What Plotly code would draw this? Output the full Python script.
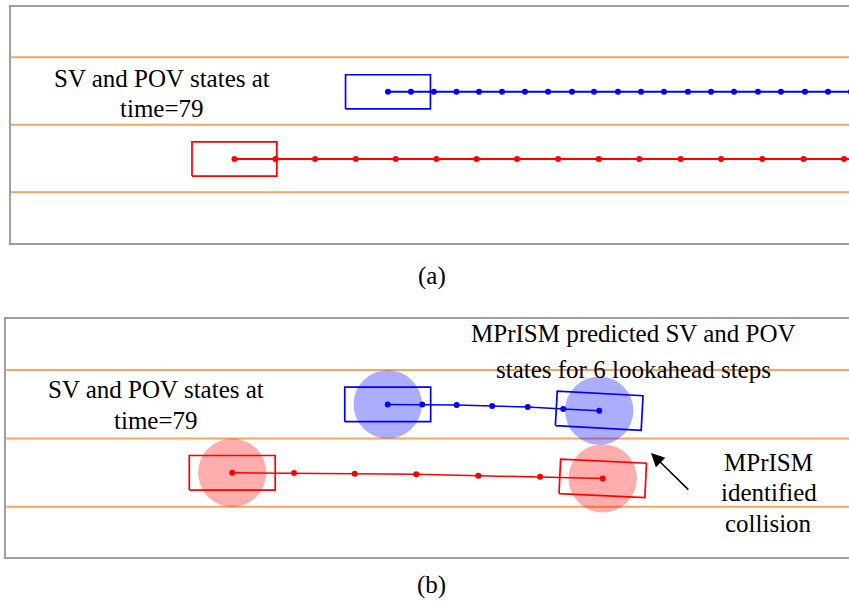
import plotly.graph_objects as go
import math

# ---------------- data (road coordinates, metres) ----------------
lane_boundaries = [0.0, 3.5, 7.0]

# Panel (a): trajectories at time = 79
blue_a_x = [19.57, 20.76, 21.95, 23.12, 24.29, 25.48, 26.67, 27.87, 29.11, 30.25,
            31.49, 32.69, 33.88, 35.12, 36.32, 37.51, 38.75, 39.94, 41.19, 42.38, 43.57]
blue_a_y = [5.21, 5.21, 5.21, 5.21, 5.21, 5.21, 5.21, 5.21, 5.21, 5.21,
            5.21, 5.21, 5.21, 5.21, 5.21, 5.21, 5.21, 5.21, 5.21, 5.21, 5.21]
red_a_x = [11.61, 13.74, 15.79, 17.90, 19.97, 22.08, 24.16, 26.26, 28.39, 30.50,
           32.60, 34.74, 36.84, 38.97, 41.11, 43.21, 45.33]
red_a_y = [1.73, 1.73, 1.73, 1.73, 1.73, 1.73, 1.73, 1.73, 1.73, 1.73,
           1.73, 1.73, 1.73, 1.73, 1.73, 1.73, 1.73]

# Panel (b): MPrISM predicted states, 6 lookahead steps
blue_b_x = [19.53, 21.30, 23.06, 24.88, 26.70, 28.52, 30.36]
blue_b_y = [5.24, 5.24, 5.21, 5.16, 5.11, 5.00, 4.92]
red_b_x = [11.57, 14.73, 17.84, 20.99, 24.17, 27.33, 30.54]
red_b_y = [1.74, 1.73, 1.69, 1.66, 1.59, 1.54, 1.45]
final_heading_deg = {"blue": -3.1, "red": -2.7}

VEH_L = 4.4
VEH_W = 1.77
UNC_R = 1.75

BLUE = "#0000FF"
RED = "#FF0000"
ORANGE = "#F6A560"
FRAME = "#A0A0A0"
FONT = "Liberation Serif, Times New Roman, serif"


def box(cx, cy, heading_deg=0.0):
    t = math.radians(heading_deg)
    c, s = math.cos(t), math.sin(t)
    pts = [(-VEH_L / 2, -VEH_W / 2), (VEH_L / 2, -VEH_W / 2),
           (VEH_L / 2, VEH_W / 2), (-VEH_L / 2, VEH_W / 2), (-VEH_L / 2, -VEH_W / 2)]
    xs = [cx + px * c - py * s for px, py in pts]
    ys = [cy + px * s + py * c for px, py in pts]
    return xs, ys


fig = go.Figure()


def traj(x, y, color, xa, ya, width, msize):
    fig.add_trace(go.Scatter(x=x, y=y, mode="lines+markers", xaxis=xa, yaxis=ya,
                             line=dict(color=color, width=width),
                             marker=dict(color=color, size=msize),
                             hoverinfo="skip"))


def outline(xs, ys, color, xa, ya):
    fig.add_trace(go.Scatter(x=xs, y=ys, mode="lines", xaxis=xa, yaxis=ya,
                             line=dict(color=color, width=1.7), hoverinfo="skip"))


# lanes
for xr, yr in (("x", "y"), ("x2", "y2")):
    for yb in lane_boundaries:
        fig.add_shape(type="line", xref=f"{xr} domain", yref=yr, x0=0, x1=1, y0=yb, y1=yb,
                      line=dict(color=ORANGE, width=2), layer="below")

# uncertainty circles (panel b)
for cx, cy, col in ((blue_b_x[0], blue_b_y[0], "rgba(0,0,255,0.32)"),
                    (blue_b_x[-1], blue_b_y[-1], "rgba(0,0,255,0.32)"),
                    (red_b_x[0], red_b_y[0], "rgba(255,0,0,0.32)"),
                    (red_b_x[-1], red_b_y[-1], "rgba(255,0,0,0.32)")):
    fig.add_shape(type="circle", xref="x2", yref="y2", x0=cx - UNC_R, x1=cx + UNC_R,
                  y0=cy - UNC_R, y1=cy + UNC_R, fillcolor=col, line=dict(width=0),
                  layer="below")

# panel (a)
traj(blue_a_x, blue_a_y, BLUE, "x", "y", 2, 6)
traj(red_a_x, red_a_y, RED, "x", "y", 2, 6)
outline(*box(blue_a_x[0], blue_a_y[0]), BLUE, "x", "y")
outline(*box(red_a_x[0], red_a_y[0]), RED, "x", "y")

# panel (b)
traj(blue_b_x, blue_b_y, BLUE, "x2", "y2", 1.5, 6)
traj(red_b_x, red_b_y, RED, "x2", "y2", 1.5, 6)
outline(*box(blue_b_x[0], blue_b_y[0]), BLUE, "x2", "y2")
outline(*box(red_b_x[0], red_b_y[0]), RED, "x2", "y2")
outline(*box(blue_b_x[-1], blue_b_y[-1], final_heading_deg["blue"]), BLUE, "x2", "y2")
outline(*box(red_b_x[-1], red_b_y[-1], final_heading_deg["red"]), RED, "x2", "y2")

axis_common = dict(showgrid=False, zeroline=False, showticklabels=False, ticks="",
                   fixedrange=True, linecolor=FRAME, linewidth=2, showline=True)

fig.update_layout(
    width=849, height=602, margin=dict(l=0, r=0, t=0, b=0),
    paper_bgcolor="white", plot_bgcolor="white", showlegend=False,
    font=dict(family=FONT, color="black"),
    xaxis=dict(domain=[10.5 / 849, 1], range=[0, 43.47], mirror=True, anchor="y", **axis_common),
    yaxis=dict(domain=[1 - 242.7 / 602, 1 - 7.3 / 602], range=[-2.61, 9.59], anchor="x", **axis_common),
    xaxis2=dict(domain=[6.3 / 849, 1], range=[0, 43.15], mirror=True, anchor="y2", **axis_common),
    yaxis2=dict(domain=[1 - 557.3 / 602, 1 - 319.3 / 602], range=[-2.59, 9.60], anchor="x2", **axis_common),
)

TXT = dict(family=FONT, size=25, color="black")


def label(x, y, text, xr, yr):
    fig.add_annotation(x=x, y=y, xref=xr, yref=yr, text=text, showarrow=False,
                       font=TXT, xanchor="center", yanchor="middle")


label(7.85, 5.925, "SV and POV states at", "x", "y")
label(7.85, 4.37, "time=79", "x", "y")
label(7.64, 6.00, "SV and POV states at", "x2", "y2")
label(7.64, 4.44, "time=79", "x2", "y2")
label(32.11, 8.85, "MPrISM predicted SV and POV", "x2", "y2")
label(32.11, 7.05, "states for 6 lookahead steps", "x2", "y2")
label(39.05, 2.29, "MPrISM", "x2", "y2")
label(39.05, 0.72, "identified", "x2", "y2")
label(39.05, -0.835, "collision", "x2", "y2")

fig.add_annotation(x=33.01, y=2.75, xref="x2", yref="y2", ax=35.0, ay=0.80,
                   axref="x2", ayref="y2", text="", showarrow=True,
                   arrowhead=2, arrowsize=1.8, arrowwidth=1.5, arrowcolor="black")
label(431.7 / 849, 1 - 276 / 602, "(a)", "paper", "paper")
label(431.7 / 849, 1 - 585 / 602, "(b)", "paper", "paper")

fig.write_html("out.html")
